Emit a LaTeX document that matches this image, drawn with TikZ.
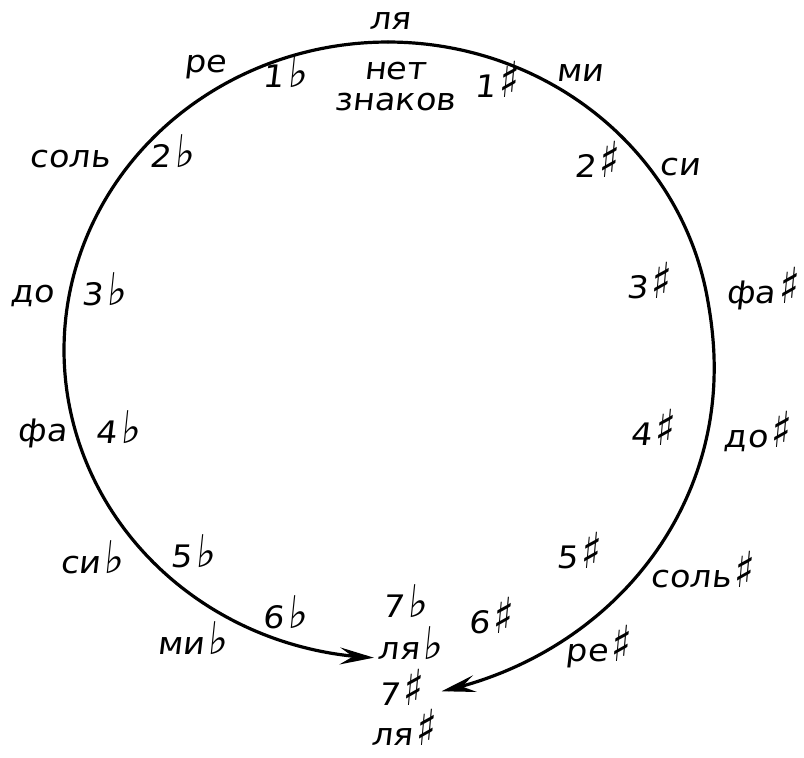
\documentclass[tikz,border=0pt]{standalone}
\usepackage{fontspec}
\newfontfamily\hand[FakeStretch=1.08,FakeSlant=0.12]{DejaVu Sans}
\newcommand\myflat{\kern3pt\scalebox{1.25}[1.45]{♭}}
\newcommand\mysharp{\kern3pt\scalebox{1.2}[1.6]{\bfseries ♯}}
\usetikzlibrary{arrows.meta}
\begin{document}
\begin{tikzpicture}[x=1pt,y=-1pt,
  lab/.style={font=\hand\fontsize{31}{34}\selectfont, inner sep=0pt, text height=22pt, text depth=7pt},
  curve/.style={line width=3.2pt, line cap=round},
  tipped/.style={-{Stealth[length=34pt,width=17pt,inset=13pt]}}]
\useasboundingbox (0,0) rectangle (804,758);
\fill[white] (0,0) rectangle (804,758);
% left half: flats
\draw[curve,tipped] plot[domain=90:267.5,samples=90,smooth]
  ({388+324*cos(\x)},{350-308*sin(\x)});
% right half: sharps
\draw[curve,tipped] plot[domain=90:-81.5,samples=100,smooth]
  ({388+324*(1+0.0016*(max(0,10-\x))^2/(max(0,10-\x)+20))*cos(\x)},
   {350-308*(1+0.0016*(max(0,10-\x))^2/(max(0,10-\x)+20))*sin(\x)});
% top
\node[lab] (la) at (390,22) {ля};
\node[lab] (none1) at (395,72) {нет};
\node[lab] (none2) at (395,103) {знаков};
% flats side
\node[lab] (re) at (205,65) {ре};
\node[lab] (f1) at (285,80) {1\myflat};
\node[lab] (sol) at (70,160) {соль};
\node[lab] (f2) at (172,160) {2\myflat};
\node[lab] (do) at (32,295) {до};
\node[lab] (f3) at (104,298) {3\myflat};
\node[lab] (fa) at (42,434) {фа};
\node[lab] (f4) at (118,436) {4\myflat};
\node[lab] (sib) at (92,566) {си\myflat};
\node[lab] (f5) at (193,560) {5\myflat};
\node[lab] (mib) at (192,647) {ми\myflat};
\node[lab] (f6) at (285,621) {6\myflat};
\node[lab] (f7) at (405,610) {7\myflat};
\node[lab] (lab) at (410,652) {ля\myflat};
% sharps side
\node[lab] (mi) at (580,74) {ми};
\node[lab] (s1) at (496,90) {1\mysharp};
\node[lab] (si) at (680,168) {си};
\node[lab] (s2) at (596,170) {2\mysharp};
\node[lab] (s3) at (648,291) {3\mysharp};
\node[lab] (fas) at (762,296) {фа\mysharp};
\node[lab] (s4) at (652,438) {4\mysharp};
\node[lab] (dos) at (757,440) {до\mysharp};
\node[lab] (s5) at (578,561) {5\mysharp};
\node[lab] (sols) at (702,580) {соль\mysharp};
\node[lab] (s6) at (490,626) {6\mysharp};
\node[lab] (res) at (598,654) {ре\mysharp};
\node[lab] (s7) at (400,698) {7\mysharp};
\node[lab] (las) at (403,738) {ля\mysharp};
\end{tikzpicture}
\end{document}
